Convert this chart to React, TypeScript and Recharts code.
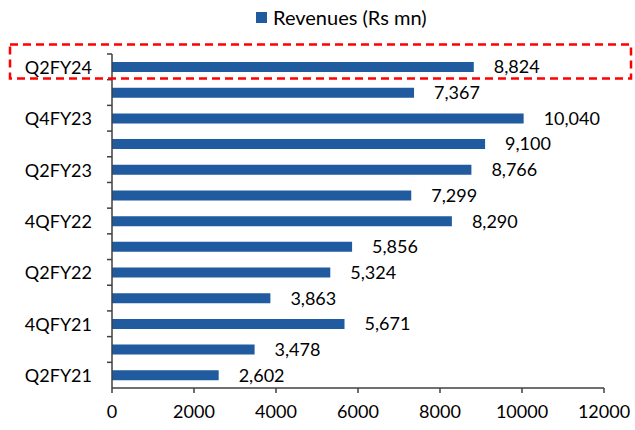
import React from "react";
import {
  BarChart,
  Bar,
  XAxis,
  YAxis,
  Legend,
  LabelList,
} from "recharts";

document.body.style.margin = "0";

const quarters = [
  "Q2FY24",
  "Q1FY24",
  "Q4FY23",
  "Q3FY23",
  "Q2FY23",
  "Q1FY23",
  "4QFY22",
  "Q3FY22",
  "Q2FY22",
  "Q1FY22",
  "4QFY21",
  "Q3FY21",
  "Q2FY21",
];
const revenues = [
  8824, 7367, 10040, 9100, 8766, 7299, 8290, 5856, 5324, 3863, 5671, 3478, 2602,
];
const xTicks = [0, 2000, 4000, 6000, 8000, 10000, 12000];

const data = quarters.map((q, i) => ({ quarter: q, revenue: revenues[i] }));

const FONT = "Lato, 'Open Sans', sans-serif";
const BLUE = "#1F5B9E";
const AXIS = "#404040";

function QuarterTick(props: any) {
  const { x, y, payload, index } = props;
  const half = payload?.offset ?? 12.85;
  return (
    <g>
      <line x1={x - 5} x2={x} y1={y - half} y2={y - half} stroke={AXIS} strokeWidth={1.5} />
      {index % 2 === 0 && (
        <text
          x={x - 20}
          y={y}
          textAnchor="end"
          dominantBaseline="central"
          fontSize={18}
          fontFamily={FONT}
          fill="#000"
        >
          {payload.value}
        </text>
      )}
    </g>
  );
}

function LegendBox() {
  return (
    <div
      style={{
        display: "flex",
        alignItems: "center",
        gap: 6,
        height: 22,
        fontFamily: FONT,
        fontSize: 20,
        color: "#000",
      }}
    >
      <div style={{ width: 11, height: 11, background: BLUE }} />
      <span>Revenues (Rs mn)</span>
    </div>
  );
}

export default function App() {
  return (
    <div style={{ position: "relative", width: 635, height: 430, background: "#fff" }}>
      <BarChart
        width={635}
        height={430}
        data={data}
        layout="vertical"
        margin={{ top: 32, right: 31, bottom: 12, left: 0 }}
      >
        <Legend
          verticalAlign="top"
          content={() => <LegendBox />}
          wrapperStyle={{ top: 6, left: 256, width: "auto", height: 22 }}
        />
        <XAxis
          type="number"
          domain={[0, 12000]}
          ticks={xTicks}
          interval={0}
          stroke={AXIS}
          strokeWidth={1.5}
          tickSize={5}
          tickMargin={12}
          height={30}
          tick={{ fontSize: 18, fontFamily: FONT, fill: "#000" }}
        />
        <YAxis
          type="category"
          dataKey="quarter"
          width={112}
          interval={0}
          stroke={AXIS}
          strokeWidth={1.5}
          tickLine={false}
          tickSize={0}
          tickMargin={0}
          tick={<QuarterTick />}
        />
        <Bar dataKey="revenue" fill={BLUE} barSize={10} isAnimationActive={false}>
          <LabelList
            dataKey="revenue"
            position="right"
            offset={20}
            formatter={(v: any) => Number(v).toLocaleString("en-US")}
            style={{ fontSize: 18, fontFamily: FONT, fill: "#000" }}
          />
        </Bar>
      </BarChart>
      <svg
        width={635}
        height={430}
        style={{ position: "absolute", left: 0, top: 0, pointerEvents: "none" }}
      >
        <rect
          x={10}
          y={44.5}
          width={621}
          height={34}
          fill="none"
          stroke="#FF0000"
          strokeWidth={2.5}
          strokeDasharray="8 5"
        />
      </svg>
    </div>
  );
}
